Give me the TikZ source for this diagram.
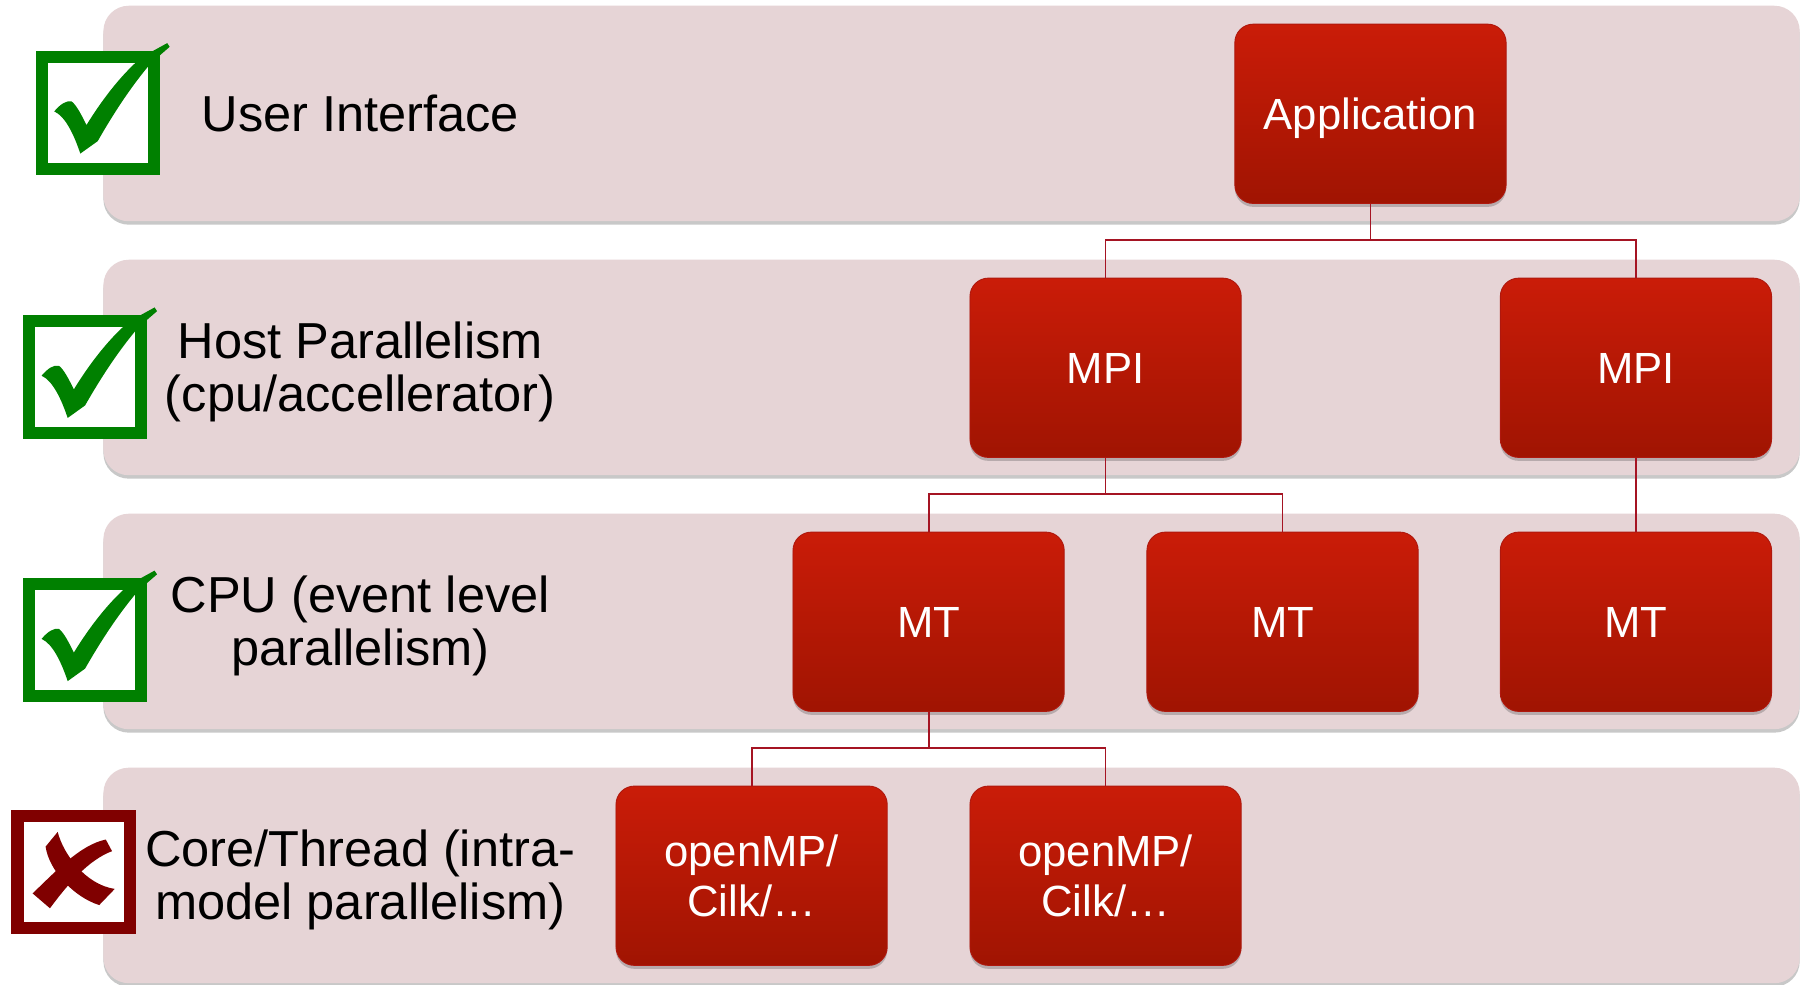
\documentclass[tikz,border=0pt]{standalone}
\usepackage{fontspec}
\setmainfont{Liberation Sans}
\usetikzlibrary{shadows}
\definecolor{bandfill}{RGB}{230,212,214}
\definecolor{boxtop}{RGB}{202,28,8}
\definecolor{boxbot}{RGB}{160,20,2}
\definecolor{boxedge}{RGB}{175,24,14}
\definecolor{connred}{RGB}{165,20,35}
\definecolor{okgreen}{RGB}{0,128,0}
\definecolor{nored}{RGB}{128,0,0}
\newcommand{\okcheckpath}{%
  (0.15,0.49) .. controls (0.20,0.43) and (0.25,0.40) .. (0.29,0.41)
  .. controls (0.33,0.44) and (0.37,0.52) .. (0.41,0.60)
  .. controls (0.52,0.42) and (0.68,0.20) .. (0.86,0.05)
  -- (1.06,-0.06) -- (1.08,-0.03) -- (0.93,0.10)
  .. controls (0.76,0.30) and (0.62,0.52) .. (0.50,0.73)
  -- (0.36,0.83)
  .. controls (0.31,0.68) and (0.24,0.53) .. (0.15,0.49) -- cycle}
\begin{document}
\begin{tikzpicture}[x=1pt,y=-1pt,
  band/.style={fill=bandfill, rounded corners=22pt,
    drop shadow={shadow xshift=0pt, shadow yshift=-3pt, opacity=0.3, fill=black!70}},
  unit/.style={rectangle, rounded corners=16pt, minimum width=236pt, minimum height=156pt,
    top color=boxtop, bottom color=boxbot, draw=boxedge, line width=0.8pt,
    text=white, font=\fontsize{38}{43}\selectfont, align=center, inner sep=0pt,
    drop shadow={shadow xshift=0pt, shadow yshift=-3pt, opacity=0.3, fill=black!70}},
  oneline/.style={text height=27.4pt, text depth=0pt},
  layer/.style={font=\fontsize{44}{46}\selectfont, align=center, text=black, inner sep=0pt},
  conn/.style={draw=connred, line width=1.6pt},
  okbox/.style={draw=okgreen, fill=white, line width=10.5pt},
  nobox/.style={draw=nored, fill=white, line width=10.5pt},
]
\useasboundingbox[fill=white] (0,0) rectangle (1568,857);

% bands
\path[band] (90,5) rectangle (1566,192.5);
\path[band] (90,226) rectangle (1566,413.5);
\path[band] (90,447) rectangle (1566,634.5);
\path[band] (90,668) rectangle (1566,855.5);

% junction levels
\coordinate (j1) at (0,209);
\coordinate (j2) at (0,430);
\coordinate (j3) at (0,651);

% boxes
\node[unit,oneline] (app)  at (1192.5,99) {Application};
\node[unit,oneline] (mpiA) at (962,320) {MPI};
\node[unit,oneline] (mpiB) at (1423.5,320) {MPI};
\node[unit,oneline] (mtA)  at (808,541) {MT};
\node[unit,oneline] (mtB)  at (1116,541) {MT};
\node[unit,oneline] (mtC)  at (1423.5,541) {MT};
\node[unit] (ompA) at (654,762) {openMP/\\Cilk/…};
\node[unit] (ompB) at (962,762) {openMP/\\Cilk/…};

% connectors
\draw[conn] (app.south) -- (app.south |- j1) -| (mpiA.north);
\draw[conn] (app.south |- j1) -| (mpiB.north);
\draw[conn] (mpiA.south) -- (mpiA.south |- j2) -| (mtA.north);
\draw[conn] (mpiA.south |- j2) -| (mtB.north);
\draw[conn] (mpiB.south) -- (mtC.north);
\draw[conn] (mtA.south) -- (mtA.south |- j3) -| (ompA.north);
\draw[conn] (mtA.south |- j3) -| (ompB.north);

% layer labels
\node[layer] (lbl1) at (313.5,98.5) {User Interface};
\node[layer] (lbl2) at (313.5,323.5) {Host Parallelism\\(cpu/accellerator)};
\node[layer] (lbl3) at (313.5,544.5) {CPU (event level\\parallelism)};
\node[layer] (lbl4) at (313.5,765.5) {Core/Thread (intra-\\model parallelism)};

% check boxes
\begin{scope}[shift={(31,44)}, x=108pt, y=-108pt]
  \draw[okbox] (0.0486,0.0486) rectangle (0.9514,0.9514);
  \fill[okgreen] \okcheckpath;
\end{scope}
\begin{scope}[shift={(20,274)}, x=108pt, y=-108pt]
  \draw[okbox] (0.0486,0.0486) rectangle (0.9514,0.9514);
  \fill[okgreen] \okcheckpath;
\end{scope}
\begin{scope}[shift={(20,503)}, x=108pt, y=-108pt]
  \draw[okbox] (0.0486,0.0486) rectangle (0.9514,0.9514);
  \fill[okgreen] \okcheckpath;
\end{scope}
\begin{scope}[shift={(10,705)}, x=108pt, y=-108pt]
  \draw[nobox] (0.0486,0.0486) rectangle (0.9514,0.9514);
  \fill[nored] (0.372,0.175) .. controls (0.42,0.36) and (0.60,0.60) .. (0.832,0.634)
     -- (0.707,0.764) .. controls (0.50,0.70) and (0.30,0.48) .. (0.275,0.293) -- cycle;
  \fill[nored] (0.76,0.236) .. controls (0.55,0.28) and (0.35,0.50) .. (0.17,0.67)
     -- (0.31,0.79) .. controls (0.45,0.60) and (0.62,0.40) .. (0.81,0.33) -- cycle;
\end{scope}
\end{tikzpicture}
\end{document}
